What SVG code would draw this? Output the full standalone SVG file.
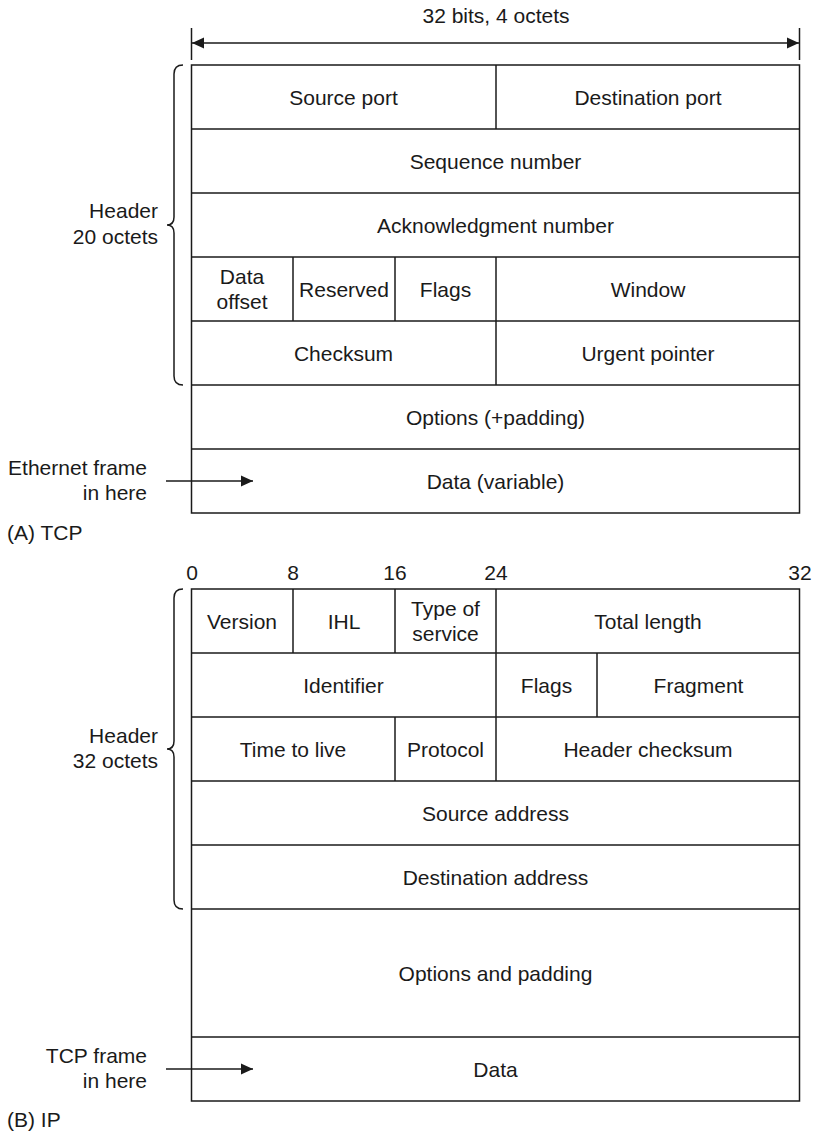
<svg xmlns="http://www.w3.org/2000/svg" width="815" height="1132" viewBox="0 0 815 1132">
<style>
text{font-family:"Liberation Sans",Arial,sans-serif;font-size:21px;fill:#1a1a1a}
.m{text-anchor:middle}
.r{text-anchor:end}
.b{fill:none;stroke:#1a1a1a;stroke-width:1.5}
.c{fill:none;stroke:#1a1a1a;stroke-width:1.5}
</style>
<defs>
<marker id="ah" viewBox="0 0 12 12" refX="12" refY="6" markerWidth="12" markerHeight="12" markerUnits="userSpaceOnUse" orient="auto-start-reverse">
<path d="M0,0.5 L12,6 L0,11.5 Z" fill="#1a1a1a"/>
</marker>
</defs>

<g id="width-dim">
<text class="m" x="496" y="23">32 bits, 4 octets</text>
</g>

<g id="tcp">
<g id="tcp-frame">
<rect class="b" x="191.5" y="65" width="608" height="448"/>
<line class="b" x1="191.5" y1="129" x2="799.5" y2="129"/>
<line class="b" x1="191.5" y1="193" x2="799.5" y2="193"/>
<line class="b" x1="191.5" y1="257" x2="799.5" y2="257"/>
<line class="b" x1="191.5" y1="321" x2="799.5" y2="321"/>
<line class="b" x1="191.5" y1="385" x2="799.5" y2="385"/>
<line class="b" x1="191.5" y1="449" x2="799.5" y2="449"/>
<line class="b" x1="496" y1="65" x2="496" y2="129"/>
<line class="b" x1="496" y1="257" x2="496" y2="385"/>
<line class="b" x1="293" y1="257" x2="293" y2="321"/>
<line class="b" x1="395" y1="257" x2="395" y2="321"/>
</g>
<g id="tcp-source-port"><text class="m" x="343.5" y="104.5">Source port</text></g>
<g id="tcp-destination-port"><text class="m" x="648" y="104.5">Destination port</text></g>
<g id="tcp-sequence"><text class="m" x="495.5" y="168.5">Sequence number</text></g>
<g id="tcp-ack"><text class="m" x="495.5" y="232.5">Acknowledgment number</text></g>
<g id="tcp-data-offset"><text class="m" x="242" y="284">Data</text><text class="m" x="242" y="309">offset</text></g>
<g id="tcp-reserved"><text class="m" x="344" y="296.5">Reserved</text></g>
<g id="tcp-flags"><text class="m" x="445.5" y="296.5">Flags</text></g>
<g id="tcp-window"><text class="m" x="648" y="296.5">Window</text></g>
<g id="tcp-checksum"><text class="m" x="343.5" y="360.5">Checksum</text></g>
<g id="tcp-urgent"><text class="m" x="648" y="360.5">Urgent pointer</text></g>
<g id="tcp-options"><text class="m" x="495.5" y="424.5">Options (+padding)</text></g>
<g id="tcp-data"><text class="m" x="495.5" y="488.5">Data (variable)</text></g>
<g id="tcp-header-label">
<path class="b" d="M183,65 Q174,65 174,74 L174,217 Q174,225 167,225 Q174,225 174,233 L174,376 Q174,385 183,385"/>
<text class="r" x="158" y="218">Header</text>
<text class="r" x="158" y="244">20 octets</text>
</g>
<g id="tcp-ethernet-label">
<text class="r" x="147" y="475">Ethernet frame</text>
<text class="r" x="147" y="500">in here</text>
</g>
<text x="7" y="540">(A) TCP</text>
</g>

<g id="ip">
<g id="ip-bit-scale">
<text class="m" x="192" y="580">0</text>
<text class="m" x="293" y="580">8</text>
<text class="m" x="395" y="580">16</text>
<text class="m" x="496" y="580">24</text>
<text class="m" x="800" y="580">32</text>
</g>
<g id="ip-frame">
<rect class="b" x="191.5" y="589" width="608" height="512"/>
<line class="b" x1="191.5" y1="653" x2="799.5" y2="653"/>
<line class="b" x1="191.5" y1="717" x2="799.5" y2="717"/>
<line class="b" x1="191.5" y1="781" x2="799.5" y2="781"/>
<line class="b" x1="191.5" y1="845" x2="799.5" y2="845"/>
<line class="b" x1="191.5" y1="909" x2="799.5" y2="909"/>
<line class="b" x1="191.5" y1="1037" x2="799.5" y2="1037"/>
<line class="b" x1="293" y1="589" x2="293" y2="653"/>
<line class="b" x1="395" y1="589" x2="395" y2="653"/>
<line class="b" x1="496" y1="589" x2="496" y2="781"/>
<line class="b" x1="597" y1="653" x2="597" y2="717"/>
<line class="b" x1="395" y1="717" x2="395" y2="781"/>
</g>
<g id="ip-version"><text class="m" x="242" y="628.5">Version</text></g>
<g id="ip-ihl"><text class="m" x="344" y="628.5">IHL</text></g>
<g id="ip-tos"><text class="m" x="445.5" y="616">Type of</text><text class="m" x="445.5" y="641">service</text></g>
<g id="ip-total-length"><text class="m" x="648" y="628.5">Total length</text></g>
<g id="ip-identifier"><text class="m" x="343.5" y="692.5">Identifier</text></g>
<g id="ip-flags"><text class="m" x="546.5" y="692.5">Flags</text></g>
<g id="ip-fragment"><text class="m" x="698.5" y="692.5">Fragment</text></g>
<g id="ip-ttl"><text class="m" x="293" y="756.5">Time to live</text></g>
<g id="ip-protocol"><text class="m" x="445.5" y="756.5">Protocol</text></g>
<g id="ip-header-checksum"><text class="m" x="648" y="756.5">Header checksum</text></g>
<g id="ip-source"><text class="m" x="495.5" y="820.5">Source address</text></g>
<g id="ip-destination"><text class="m" x="495.5" y="884.5">Destination address</text></g>
<g id="ip-options"><text class="m" x="495.5" y="980.5">Options and padding</text></g>
<g id="ip-data"><text class="m" x="495.5" y="1076.5">Data</text></g>
<g id="ip-header-label">
<path class="b" d="M183,589 Q174,589 174,598 L174,741 Q174,749 167,749 Q174,749 174,757 L174,900 Q174,909 183,909"/>
<text class="r" x="158" y="743">Header</text>
<text class="r" x="158" y="768">32 octets</text>
</g>
<g id="ip-tcp-label">
<text class="r" x="147" y="1063">TCP frame</text>
<text class="r" x="147" y="1088">in here</text>
</g>
<text x="7" y="1127">(B) IP</text>
</g>

<g id="connectors">
<line class="c" x1="191.5" y1="28" x2="191.5" y2="60"/>
<line class="c" x1="799.5" y1="28" x2="799.5" y2="60"/>
<line class="c" x1="192" y1="43" x2="799" y2="43" marker-start="url(#ah)" marker-end="url(#ah)"/>
<line class="c" x1="166" y1="481" x2="253" y2="481" marker-end="url(#ah)"/>
<line class="c" x1="166" y1="1069" x2="253" y2="1069" marker-end="url(#ah)"/>
</g>
</svg>
